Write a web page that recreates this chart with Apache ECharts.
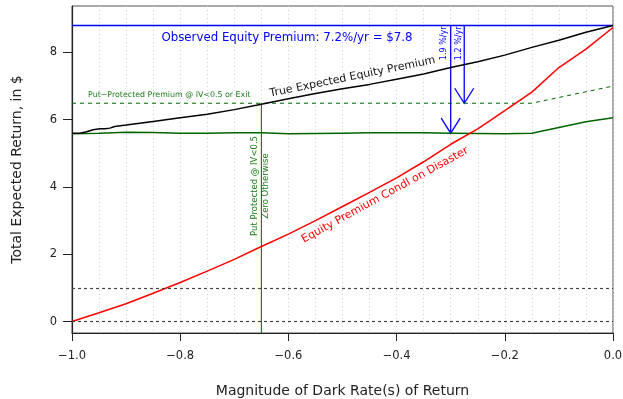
<!DOCTYPE html>
<html>
<head>
<meta charset="utf-8">
<script src="https://cdn.jsdelivr.net/npm/echarts@6/dist/echarts.min.js"></script>
<style>
html,body{margin:0;padding:0;background:#fff;}
#chart{width:623px;height:399px;}
</style>
</head>
<body>
<div id="chart"></div>
<script>
// ---- data ----
const xGrid = [-1.0,-0.95,-0.9,-0.85,-0.8,-0.75,-0.7,-0.65,-0.6,-0.55,-0.5,-0.45,-0.4,-0.35,-0.3,-0.25,-0.2,-0.15,-0.1,-0.05,0.0];
const condlDisaster = [0,0.26,0.53,0.84,1.16,1.5,1.85,2.23,2.6,3.0,3.42,3.84,4.27,4.75,5.27,5.73,6.27,6.82,7.55,8.1,8.74];
const putProtected = [5.58,5.6,5.63,5.62,5.6,5.6,5.61,5.61,5.58,5.59,5.6,5.61,5.61,5.61,5.6,5.59,5.58,5.6,5.77,5.94,6.06];
const putProtectedExit = [6.49,6.49,6.49,6.49,6.49,6.49,6.49,6.49,6.49,6.49,6.49,6.49,6.49,6.49,6.49,6.49,6.49,6.49,6.66,6.83,7.0];
const trueX = [-1.0,-0.985,-0.973,-0.961,-0.948,-0.939,-0.93,-0.921,-0.9,-0.85,-0.8,-0.75,-0.7,-0.65,-0.6,-0.55,-0.5,-0.45,-0.4,-0.35,-0.3,-0.25,-0.2,-0.15,-0.1,-0.05,0.0];
const trueY = [5.6,5.6,5.64,5.7,5.73,5.73,5.75,5.8,5.84,5.95,6.06,6.16,6.3,6.46,6.62,6.78,6.92,7.05,7.2,7.36,7.55,7.72,7.92,8.15,8.36,8.6,8.8];
const observedPremium = 8.8;
const refLevels = [0, 1];
const cutoffX = -0.65;
const arrowX = [-0.3, -0.275];
const arrowFrom = [8.8, 8.8];
const arrowTo = [5.6, 6.49];
const yTicks = [0, 2, 4, 6, 8];
const xRange = [-1.0, 0.0];
const yRange = [-0.34, 9.38];

const FONT = 'DejaVu Sans';
const GREEN = '#006400';
const zip = (xs, ys) => xs.map((x, i) => [x, ys[i]]);

const chart = echarts.init(document.getElementById('chart'), null, {renderer: 'canvas'});

const option = {
  animation: false,
  backgroundColor: '#fff',
  grid: {left: 72, right: 10, top: 6, bottom: 66, show: true, borderColor: '#555', borderWidth: 1,
    backgroundColor: 'transparent', containLabel: false, outerBoundsMode: 'none'},
  xAxis: {
    type: 'value', min: xRange[0], max: xRange[1], interval: 0.2,
    name: 'Magnitude of Dark Rate(s) of Return', nameLocation: 'middle', nameGap: 51,
    nameTextStyle: {fontFamily: FONT, fontSize: 14, color: '#222'},
    axisLine: {onZero: false, lineStyle: {color: '#222', width: 1.2}},
    axisTick: {length: 8, lineStyle: {color: '#222', width: 1}},
    axisLabel: {fontFamily: FONT, fontSize: 11.5, color: '#222', margin: 17,
      formatter: v => (v < -1e-9 ? '\u2212' : '') + Math.abs(v).toFixed(1)},
    splitLine: {show: true, lineStyle: {color: '#d0d0d0', type: [1, 3], width: 1}},
    minorTick: {show: false, splitNumber: 4},
    minorSplitLine: {show: true, lineStyle: {color: '#d0d0d0', type: [1, 3], width: 1}}
  },
  yAxis: {
    type: 'value', min: yRange[0], max: yRange[1],
    name: 'Total Expected Return, in $', nameLocation: 'middle', nameGap: 48,
    nameTextStyle: {fontFamily: FONT, fontSize: 14, color: '#222'},
    axisLine: {onZero: false, lineStyle: {color: '#222', width: 1.2}},
    axisTick: {length: 9, customValues: yTicks, lineStyle: {color: '#222', width: 1}},
    axisLabel: {fontFamily: FONT, fontSize: 11.5, color: '#222', margin: 15, customValues: yTicks},
    splitLine: {show: false}
  },
  series: [
    {type: 'line', name: 'refs', data: [], silent: true,
      markLine: {silent: true, symbol: 'none', label: {show: false},
        lineStyle: {color: '#444', type: [3, 3], width: 1.2},
        data: refLevels.map(v => ({yAxis: v}))}},
    {type: 'line', name: 'observed', data: [[xRange[0], observedPremium], [xRange[1], observedPremium]],
      symbol: 'none', lineStyle: {color: '#0000ff', width: 1.3}},
    {type: 'line', name: 'cutoff', data: [[cutoffX, putProtectedExit[xGrid.indexOf(cutoffX)]], [cutoffX, yRange[0]]],
      symbol: 'none', lineStyle: {color: GREEN, width: 1}},
    {type: 'line', name: 'putExit', data: zip(xGrid, putProtectedExit), symbol: 'none',
      lineStyle: {color: GREEN, width: 1, type: [4, 4]}},
    {type: 'line', name: 'put', data: zip(xGrid, putProtected), symbol: 'none',
      lineStyle: {color: GREEN, width: 1.5}},
    {type: 'line', name: 'true', data: zip(trueX, trueY), symbol: 'none',
      lineStyle: {color: '#000', width: 1.5}},
    {type: 'line', name: 'condl', data: zip(xGrid, condlDisaster), symbol: 'none',
      lineStyle: {color: '#ff0000', width: 1.5}},
    {type: 'custom', name: 'arrows', data: arrowX.map((x, i) => [x, arrowFrom[i], arrowTo[i]]),
      renderItem: function (params, api) {
        const x = api.value(0);
        const p1 = api.coord([x, api.value(1)]);
        const p2 = api.coord([x, api.value(2)]);
        return {type: 'group', children: [
          {type: 'line', shape: {x1: p1[0], y1: p1[1], x2: p2[0], y2: p2[1]}, style: {stroke: '#0000ff', lineWidth: 1.3}},
          {type: 'polyline', shape: {points: [[p2[0] - 9.5, p2[1] - 15], [p2[0], p2[1]], [p2[0] + 9.5, p2[1] - 15]]},
            style: {stroke: '#0000ff', fill: null, lineWidth: 1.3}}
        ]};
      }}
  ]
};
chart.setOption(option);

// text annotations anchored in data coordinates
const notes = [
  {text: 'Observed Equity Premium: 7.2%/yr = $7.8', at: [-0.6026, 8.43], rot: 0, color: '#0000ff', size: 11.8, align: 'center'},
  {text: 'True Expected Equity Premium', at: [-0.4815, 7.27], rot: 11.5, color: '#111', size: 11, align: 'center'},
  {text: 'Put\u2212Protected Premium @ IV<0.5 or Exit', at: [-0.9704, 6.73], rot: 0, color: '#1f7a1f', size: 7.9, align: 'left'},
  {text: 'Equity Premium Condl on Disaster', at: [-0.4214, 3.76], rot: 28.7, color: '#ff0000', size: 11, align: 'center'},
  {text: '1.9 %/yr', at: [-0.3118, 8.27], rot: 90, color: '#0000ff', size: 8, align: 'center'},
  {text: '1.2 %/yr', at: [-0.2852, 8.27], rot: 90, color: '#0000ff', size: 8, align: 'center'},
  {text: 'Put Protected @ IV<0.5', at: [-0.6617, 4.03], rot: 90, color: '#1f7a1f', size: 8.5, align: 'center'},
  {text: 'Zero Otherwise', at: [-0.6414, 4.03], rot: 90, color: '#1f7a1f', size: 8.5, align: 'center'}
];
const graphics = notes.map(n => {
  const p = chart.convertToPixel({gridIndex: 0}, n.at);
  return {type: 'text', x: p[0], y: p[1], rotation: n.rot * Math.PI / 180, z: 100,
    style: {text: n.text, fill: n.color, font: n.size + 'px "' + FONT + '"', align: n.align, verticalAlign: 'middle'}};
});
chart.setOption({graphic: graphics});
</script>
</body>
</html>
